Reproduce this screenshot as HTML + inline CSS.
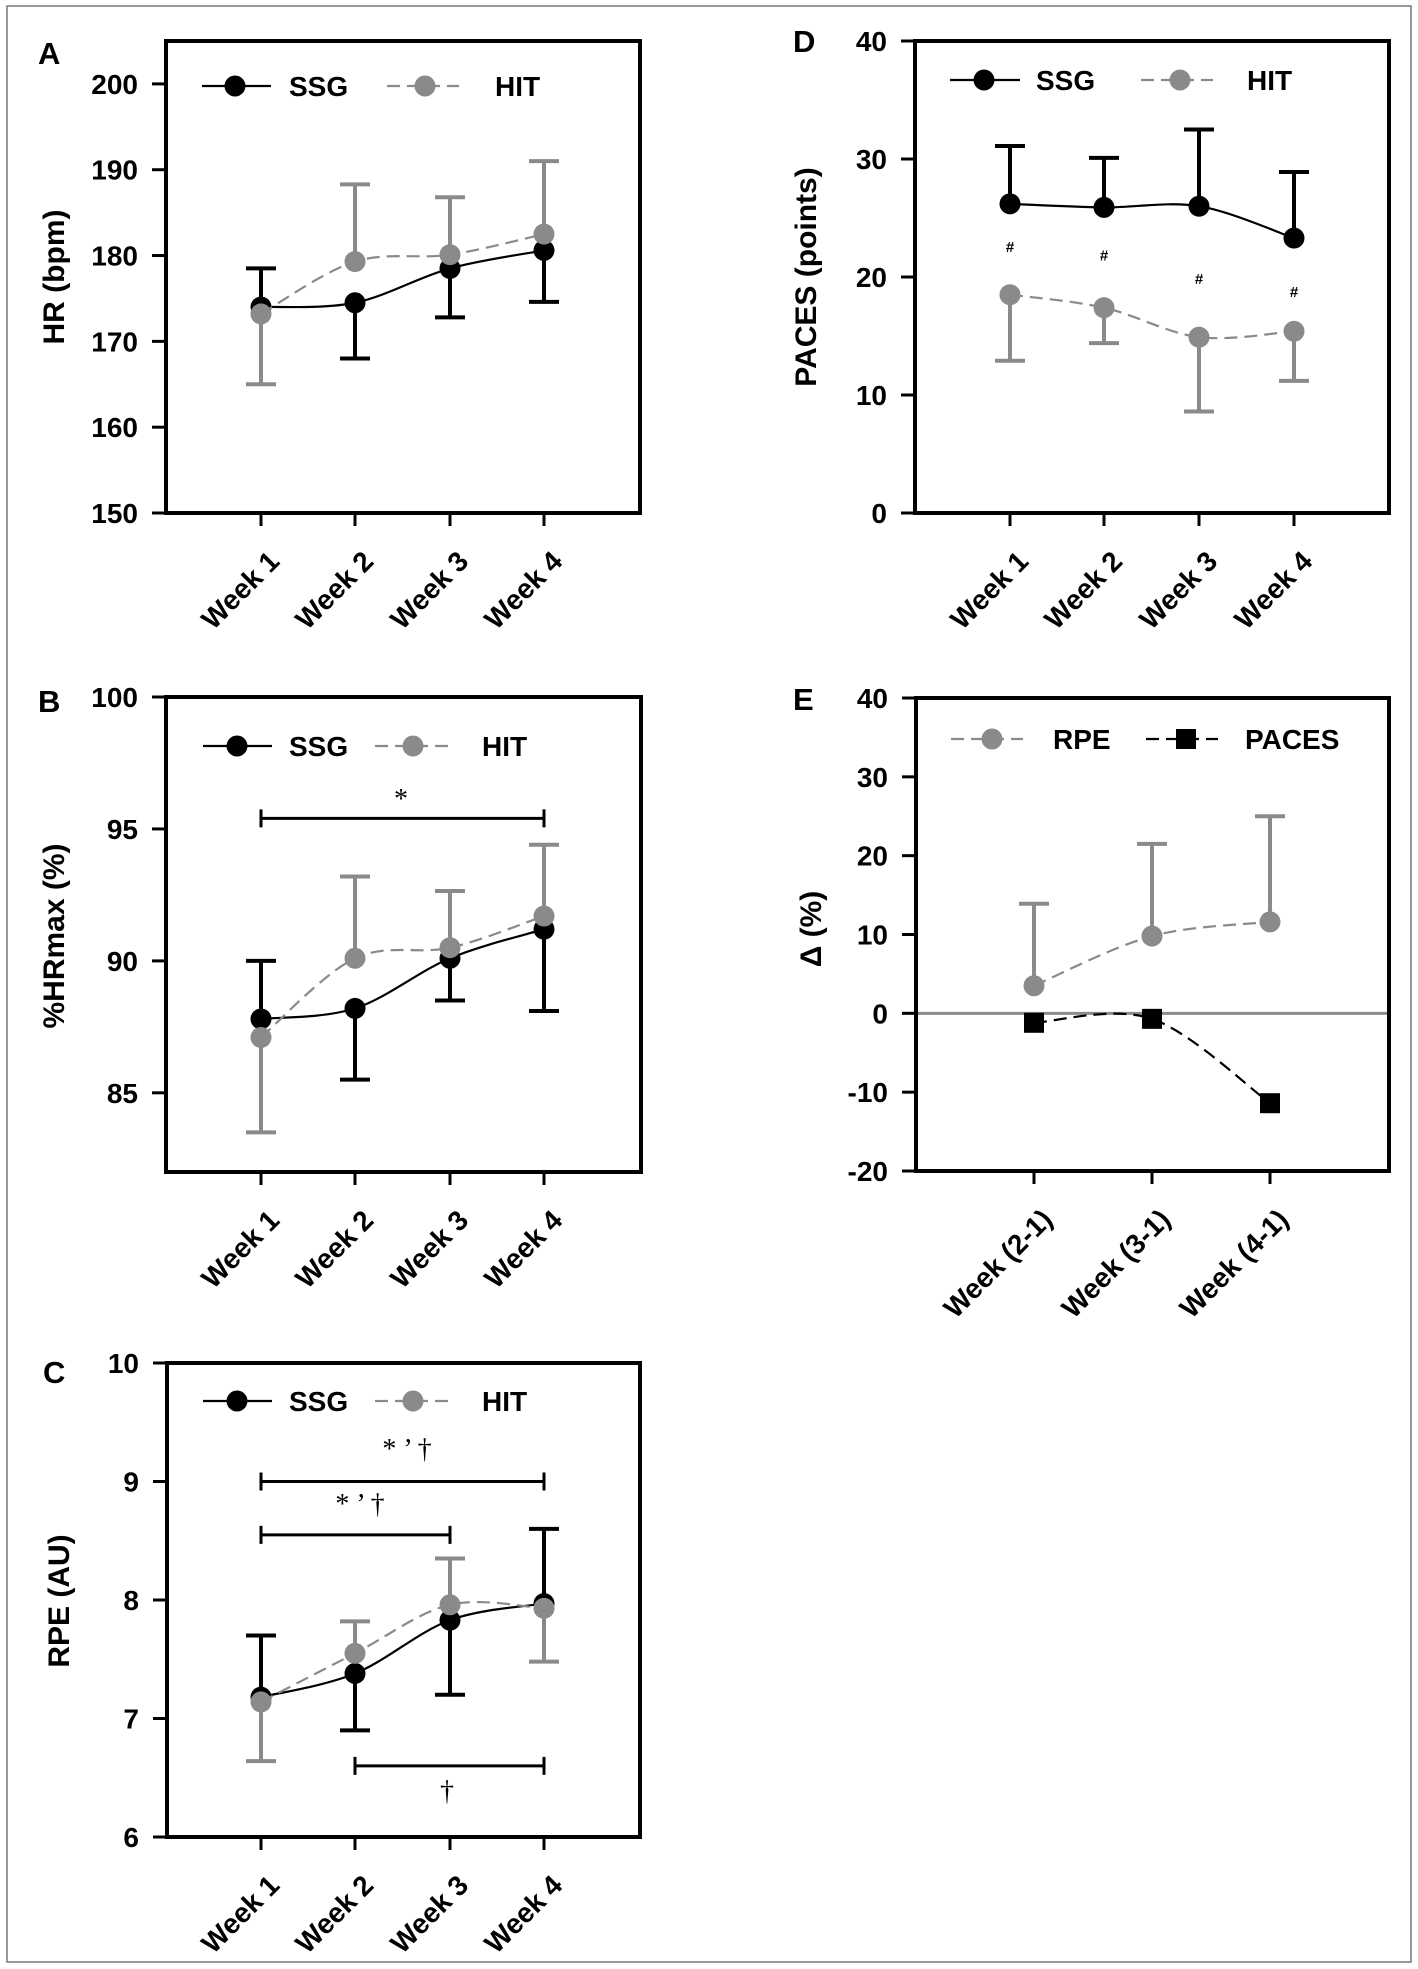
<!DOCTYPE html>
<html><head><meta charset="utf-8">
<style>
html,body{margin:0;padding:0;background:#fff;}
svg{display:block;}
text{font-family:"Liberation Sans",Arial,sans-serif;font-weight:bold;}
</style></head>
<body>
<svg id="fig" width="1418" height="1969" viewBox="0 0 1418 1969" xmlns="http://www.w3.org/2000/svg">
<rect x="7" y="6" width="1404" height="1956" fill="#fff" stroke="#777" stroke-width="1.5"/>
</svg>
<script>
// ---------- Data ----------
const weeks = ["Week 1","Week 2","Week 3","Week 4"];
const diffs = ["Week (2-1)","Week (3-1)","Week (4-1)"];

const hrSSG = [174.0, 174.5, 178.5, 180.6];
const hrSSGerr = [178.5, 168.0, 172.8, 174.6];
const hrHIT = [173.2, 179.3, 180.1, 182.5];
const hrHITerr = [165.0, 188.3, 186.8, 191.0];

const pctSSG = [87.8, 88.2, 90.1, 91.2];
const pctSSGerr = [90.0, 85.5, 88.5, 88.1];
const pctHIT = [87.1, 90.1, 90.5, 91.7];
const pctHITerr = [83.5, 93.2, 92.65, 94.4];

const rpeSSG = [7.18, 7.38, 7.83, 7.97];
const rpeSSGerr = [7.7, 6.9, 7.2, 8.6];
const rpeHIT = [7.14, 7.55, 7.96, 7.93];
const rpeHITerr = [6.64, 7.82, 8.35, 7.48];

const pacesSSG = [26.2, 25.9, 26.0, 23.3];
const pacesSSGerr = [31.1, 30.1, 32.5, 28.9];
const pacesHIT = [18.5, 17.4, 14.9, 15.4];
const pacesHITerr = [12.9, 14.4, 8.6, 11.2];
const pacesHash = [22.1, 21.4, 19.4, 18.3];

const deltaRPE = [3.5, 9.8, 11.6];
const deltaRPEerr = [13.9, 21.5, 25.0];
const deltaPACES = [-1.2, -0.7, -11.4];

const ticksA = [150,160,170,180,190,200];
const ticksB = [85,90,95,100];
const ticksC = [6,7,8,9,10];
const ticksD = [0,10,20,30,40];
const ticksE = [-20,-10,0,10,20,30,40];

// ---------- helpers ----------
const NS = "http://www.w3.org/2000/svg";
const svg = document.getElementById("fig");
function mk(tag, attrs, parent, txt){
  const e = document.createElementNS(NS, tag);
  for (const k in attrs) e.setAttribute(k, attrs[k]);
  if (txt !== undefined) e.textContent = txt;
  (parent || svg).appendChild(e);
  return e;
}
function smoothPath(pts){
  let d = "M" + pts[0][0] + "," + pts[0][1];
  for (let i = 0; i < pts.length - 1; i++){
    const p0 = pts[i-1] || pts[i], p1 = pts[i], p2 = pts[i+1], p3 = pts[i+2] || pts[i+1];
    const t = 1/6;
    const c1 = [p1[0] + (p2[0]-p0[0])*t, p1[1] + (p2[1]-p0[1])*t];
    const c2 = [p2[0] - (p3[0]-p1[0])*t, p2[1] - (p3[1]-p1[1])*t];
    d += " C" + c1[0] + "," + c1[1] + " " + c2[0] + "," + c2[1] + " " + p2[0] + "," + p2[1];
  }
  return d;
}

function panel(cfg){
  const g = mk("g", {});
  
  
  const L = cfg.box[0], T = cfg.box[1], R = cfg.box[2], B = cfg.box[3];
  const y = v => B - (v - cfg.ymin) / (cfg.ymax - cfg.ymin) * (B - T);
  const x = i => cfg.xpos[i];

  const pl = mk("text", {x: cfg.labelPos[0], y: cfg.labelPos[1], "font-size": 31}, g, cfg.letter);
  
  

  const yt = mk("text", {x: cfg.titlePos[0], y: cfg.titlePos[1], "font-size": 30, "text-anchor": "middle",
    transform: "rotate(-90 " + cfg.titlePos[0] + " " + cfg.titlePos[1] + ")"}, g, cfg.ytitle);
  
  

  if (cfg.zero){
    const zl = mk("line", {x1: L, x2: R, y1: y(0), y2: y(0), stroke: "#8c8c8c", "stroke-width": 3}, g);
    
    
  }

  const bx = mk("rect", {x: L, y: T, width: R-L, height: B-T, fill: "none", stroke: "#000", "stroke-width": 4}, g);
  
  

  cfg.yticks.forEach(v => {
    const tl = mk("line", {x1: L-14, x2: L, y1: y(v), y2: y(v), stroke: "#000", "stroke-width": 3}, g);
    
    
    const tx = mk("text", {x: L-28, y: y(v)+10, "font-size": 28, "text-anchor": "end"}, g, String(v));
    
    
  });
  cfg.cats.forEach((c, i) => {
    const tl = mk("line", {x1: x(i), x2: x(i), y1: B, y2: B+13, stroke: "#000", "stroke-width": 3}, g);
    
    
    const px = x(i) + 20, py = B + 50;
    const tx = mk("text", {x: px, y: py, "font-size": 28, "text-anchor": "end",
      transform: "rotate(-45 " + px + " " + py + ")"}, g, c);
    
    
  });

  (cfg.sig || []).forEach(s => {
    const sy = y(s.v);
    const sl = mk("path", {d: "M" + x(s.a) + "," + (sy-9) + " V" + (sy+9) + " M" + x(s.a) + "," + sy + " H" + x(s.b) + " M" + x(s.b) + "," + (sy-9) + " V" + (sy+9),
      stroke: "#000", "stroke-width": 3, fill: "none"}, g);
    
    
    const st = mk("text", {x: s.tx, y: s.ty, "font-size": 28, "text-anchor": "middle",
      style: "font-family:'Liberation Serif',serif;font-weight:normal"}, g, s.label);
    
    
  });

  cfg.series.forEach(s => {
    const sg = mk("g", {}, g);
    
    
    if (s.err){
      s.vals.forEach((v, i) => {
        const e = s.err[i];
        const el = mk("path", {d: "M" + x(i) + "," + y(v) + " V" + y(e) + " M" + (x(i)-15) + "," + y(e) + " H" + (x(i)+15),
          stroke: s.color, "stroke-width": 4, fill: "none"}, sg);
        
        
      });
    }
    const pts = s.vals.map((v, i) => [x(i), y(v)]);
    const ln = mk("path", {d: smoothPath(pts), stroke: s.lineColor, "stroke-width": 2.2, fill: "none",
      "stroke-dasharray": s.dash || "none"}, sg);
    
    
    s.vals.forEach((v, i) => {
      let m;
      if (s.square) m = mk("rect", {x: x(i)-10, y: y(v)-10, width: 20, height: 20, fill: s.color}, sg);
      else m = mk("circle", {cx: x(i), cy: y(v), r: 10.5, fill: s.color}, sg);
      
      
    });
  });

  if (cfg.hash){
    cfg.hash.forEach((v, i) => {
      const h = mk("text", {x: x(i), y: y(v), "font-size": 15, "text-anchor": "middle"}, g, "#");
      
      
    });
  }

  cfg.legend.forEach(l => {
    const lg = mk("g", {}, g);
    
    
    mk("line", {x1: l.x1, x2: l.x2, y1: l.y, y2: l.y, stroke: l.lineColor, "stroke-width": 2.2, "stroke-dasharray": l.dash || "none"}, lg);
    if (l.square) mk("rect", {x: l.mx-10, y: l.y-10, width: 20, height: 20, fill: l.color}, lg);
    else mk("circle", {cx: l.mx, cy: l.y, r: 10.5, fill: l.color}, lg);
    mk("text", {x: l.tx, y: l.y + 10, "font-size": 28}, lg, l.text);
  });
}

const GRAY = "#8a8a8a", DASH = "13,7";
const colL = [261, 355, 450, 544];
const colR = [1010, 1104, 1199, 1294];
function legendLeft(yy){
  return [
    {x1: 203, x2: 272, mx: 237, y: yy, lineColor: "#000", color: "#000", tx: 289, text: "SSG"},
    {x1: 375, x2: 450, mx: 413, y: yy, lineColor: GRAY, color: GRAY, dash: DASH, tx: 482, text: "HIT"}
  ];
}

panel({name: "panel-a-hr", letter: "A", labelPos: [38, 64], titlePos: [64, 277], ytitle: "HR (bpm)",
  box: [166, 41, 640, 513], ymin: 150, ymax: 205, yticks: ticksA, cats: weeks, xpos: colL,
  series: [
    {key: "ssg", vals: hrSSG, err: hrSSGerr, color: "#000", lineColor: "#000"},
    {key: "hit", vals: hrHIT, err: hrHITerr, color: GRAY, lineColor: GRAY, dash: DASH}
  ],
  legend: [
    {x1: 202, x2: 271, mx: 235, y: 86, lineColor: "#000", color: "#000", tx: 289, text: "SSG"},
    {x1: 387, x2: 459, mx: 425, y: 86, lineColor: GRAY, color: GRAY, dash: DASH, tx: 495, text: "HIT"}
  ]});

panel({name: "panel-b-hrmax", letter: "B", labelPos: [38, 712], titlePos: [64, 936], ytitle: "%HRmax (%)",
  box: [166, 697, 641, 1172], ymin: 82, ymax: 100, yticks: ticksB, cats: weeks, xpos: colL,
  sig: [{v: 95.4, a: 0, b: 3, label: "*", tx: 401, ty: 808}],
  series: [
    {key: "ssg", vals: pctSSG, err: pctSSGerr, color: "#000", lineColor: "#000"},
    {key: "hit", vals: pctHIT, err: pctHITerr, color: GRAY, lineColor: GRAY, dash: DASH}
  ],
  legend: legendLeft(746)});

panel({name: "panel-c-rpe", letter: "C", labelPos: [43, 1383], titlePos: [69, 1601], ytitle: "RPE (AU)",
  box: [167, 1363, 640, 1837], ymin: 6, ymax: 10, yticks: ticksC, cats: weeks, xpos: colL,
  sig: [
    {v: 9.0, a: 0, b: 3, label: "* ’ †", tx: 407, ty: 1458},
    {v: 8.55, a: 0, b: 2, label: "* ’ †", tx: 360, ty: 1513},
    {v: 6.6, a: 1, b: 3, label: "†", tx: 447, ty: 1800}
  ],
  series: [
    {key: "ssg", vals: rpeSSG, err: rpeSSGerr, color: "#000", lineColor: "#000"},
    {key: "hit", vals: rpeHIT, err: rpeHITerr, color: GRAY, lineColor: GRAY, dash: DASH}
  ],
  legend: legendLeft(1401)});

panel({name: "panel-d-paces", letter: "D", labelPos: [793, 52], titlePos: [816, 277], ytitle: "PACES (points)",
  box: [915, 41, 1389, 513], ymin: 0, ymax: 40, yticks: ticksD, cats: weeks, xpos: colR,
  hash: pacesHash,
  series: [
    {key: "ssg", vals: pacesSSG, err: pacesSSGerr, color: "#000", lineColor: "#000"},
    {key: "hit", vals: pacesHIT, err: pacesHITerr, color: GRAY, lineColor: GRAY, dash: DASH}
  ],
  legend: [
    {x1: 950, x2: 1020, mx: 984, y: 80, lineColor: "#000", color: "#000", tx: 1036, text: "SSG"},
    {x1: 1141, x2: 1213, mx: 1180, y: 80, lineColor: GRAY, color: GRAY, dash: DASH, tx: 1247, text: "HIT"}
  ]});

panel({name: "panel-e-delta", letter: "E", labelPos: [793, 710], titlePos: [821, 929], ytitle: "Δ  (%)",
  box: [916, 698, 1389, 1171], ymin: -20, ymax: 40, yticks: ticksE, cats: diffs, xpos: [1034, 1152, 1270],
  zero: true,
  series: [
    {key: "rpe", vals: deltaRPE, err: deltaRPEerr, color: GRAY, lineColor: GRAY, dash: DASH},
    {key: "paces", vals: deltaPACES, color: "#000", lineColor: "#000", dash: DASH, square: true}
  ],
  legend: [
    {x1: 951, x2: 1023, mx: 992, y: 739, lineColor: GRAY, color: GRAY, dash: DASH, tx: 1053, text: "RPE"},
    {x1: 1146, x2: 1218, mx: 1186, y: 739, lineColor: "#000", color: "#000", dash: DASH, square: true, tx: 1245, text: "PACES"}
  ]});
</script>
</body></html>
